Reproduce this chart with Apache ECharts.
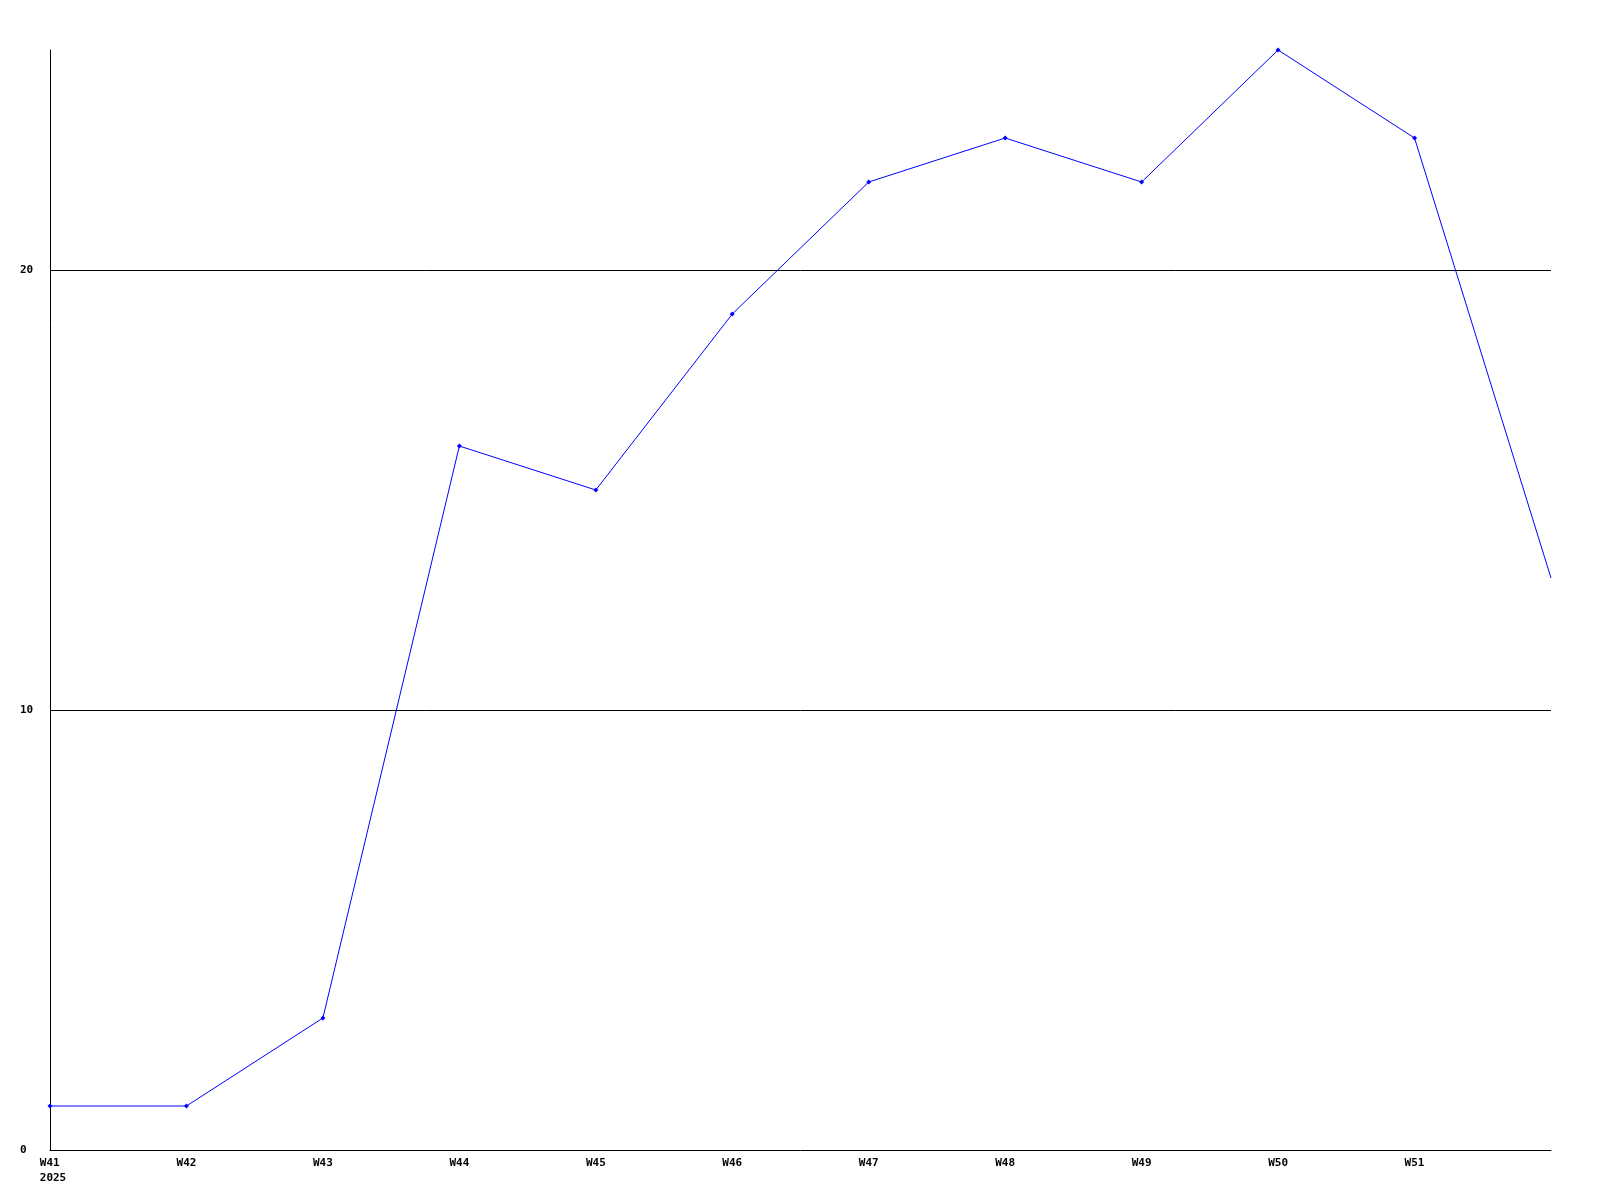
<!DOCTYPE html>
<html>
<head>
    <meta charset="utf-8">
    <title>W41 - W52</title>
    <script src="https://cdn.jsdelivr.net/npm/echarts@6/dist/echarts.min.js"></script>
    <style>
        body { margin: 0; background: #fff; }
        #chart { width: 1600px; height: 1200px; }
    </style>
</head>
<body>
<div id="chart"></div>
<script type="text/javascript">
    // week labels (last point has no label)
    var weeks = ['W41', 'W42', 'W43', 'W44', 'W45', 'W46', 'W47', 'W48', 'W49', 'W50', 'W51', 'W52'];
    var yearLabel = '2025';
    // weekly counts
    var counts = [1, 1, 3, 16, 15, 19, 22, 23, 22, 25, 23, 13];

    var labelFont = 'DejaVu Sans Mono';

    // last point drawn without marker
    var seriesData = counts.map(function (v, i) {
        if (i === counts.length - 1) {
            return { value: v, symbol: 'none' };
        }
        return v;
    });

    var chart = echarts.init(document.getElementById('chart'));
    chart.setOption({
        animation: false,
        grid: { left: 50, right: 49, top: 50, bottom: 50 },
        xAxis: {
            type: 'category',
            data: weeks,
            boundaryGap: false,
            axisLine: { lineStyle: { color: '#000', width: 1 } },
            axisTick: { show: false },
            splitLine: { show: false },
            axisLabel: {
                margin: 6,
                color: '#000',
                fontFamily: labelFont,
                fontWeight: 'bold',
                fontSize: 11,
                lineHeight: 15,
                showMaxLabel: true,
                interval: 0,
                formatter: function (val, idx) {
                    if (idx === weeks.length - 1) return '';
                    if (idx === 0) return '{f|' + val + '}\n{f|' + yearLabel + '}';
                    return val;
                },
                rich: {
                    f: {
                        align: 'left',
                        padding: [0, 0, 0, 6],
                        fontFamily: labelFont,
                        fontWeight: 'bold',
                        fontSize: 11,
                        lineHeight: 15,
                        color: '#000'
                    }
                }
            }
        },
        yAxis: {
            type: 'value',
            min: 0,
            max: 25,
            interval: 10,
            axisLine: { show: true, lineStyle: { color: '#000', width: 1 } },
            axisTick: { show: false },
            splitLine: {
                show: true,
                showMinLine: false,
                showMaxLine: false,
                lineStyle: { color: '#000', width: 1 }
            },
            axisLabel: {
                // labels start at x=20, left aligned
                margin: 30,
                align: 'left',
                color: '#000',
                fontFamily: labelFont,
                fontWeight: 'bold',
                fontSize: 11,
                showMaxLabel: false
            }
        },
        series: [{
            type: 'line',
            data: seriesData,
            symbol: 'diamond',
            symbolSize: 5,
            showAllSymbol: true,
            lineStyle: { color: '#0000ff', width: 1 },
            itemStyle: { color: '#0000ff' },
            emphasis: { disabled: true }
        }]
    });
</script>
</body>
</html>
